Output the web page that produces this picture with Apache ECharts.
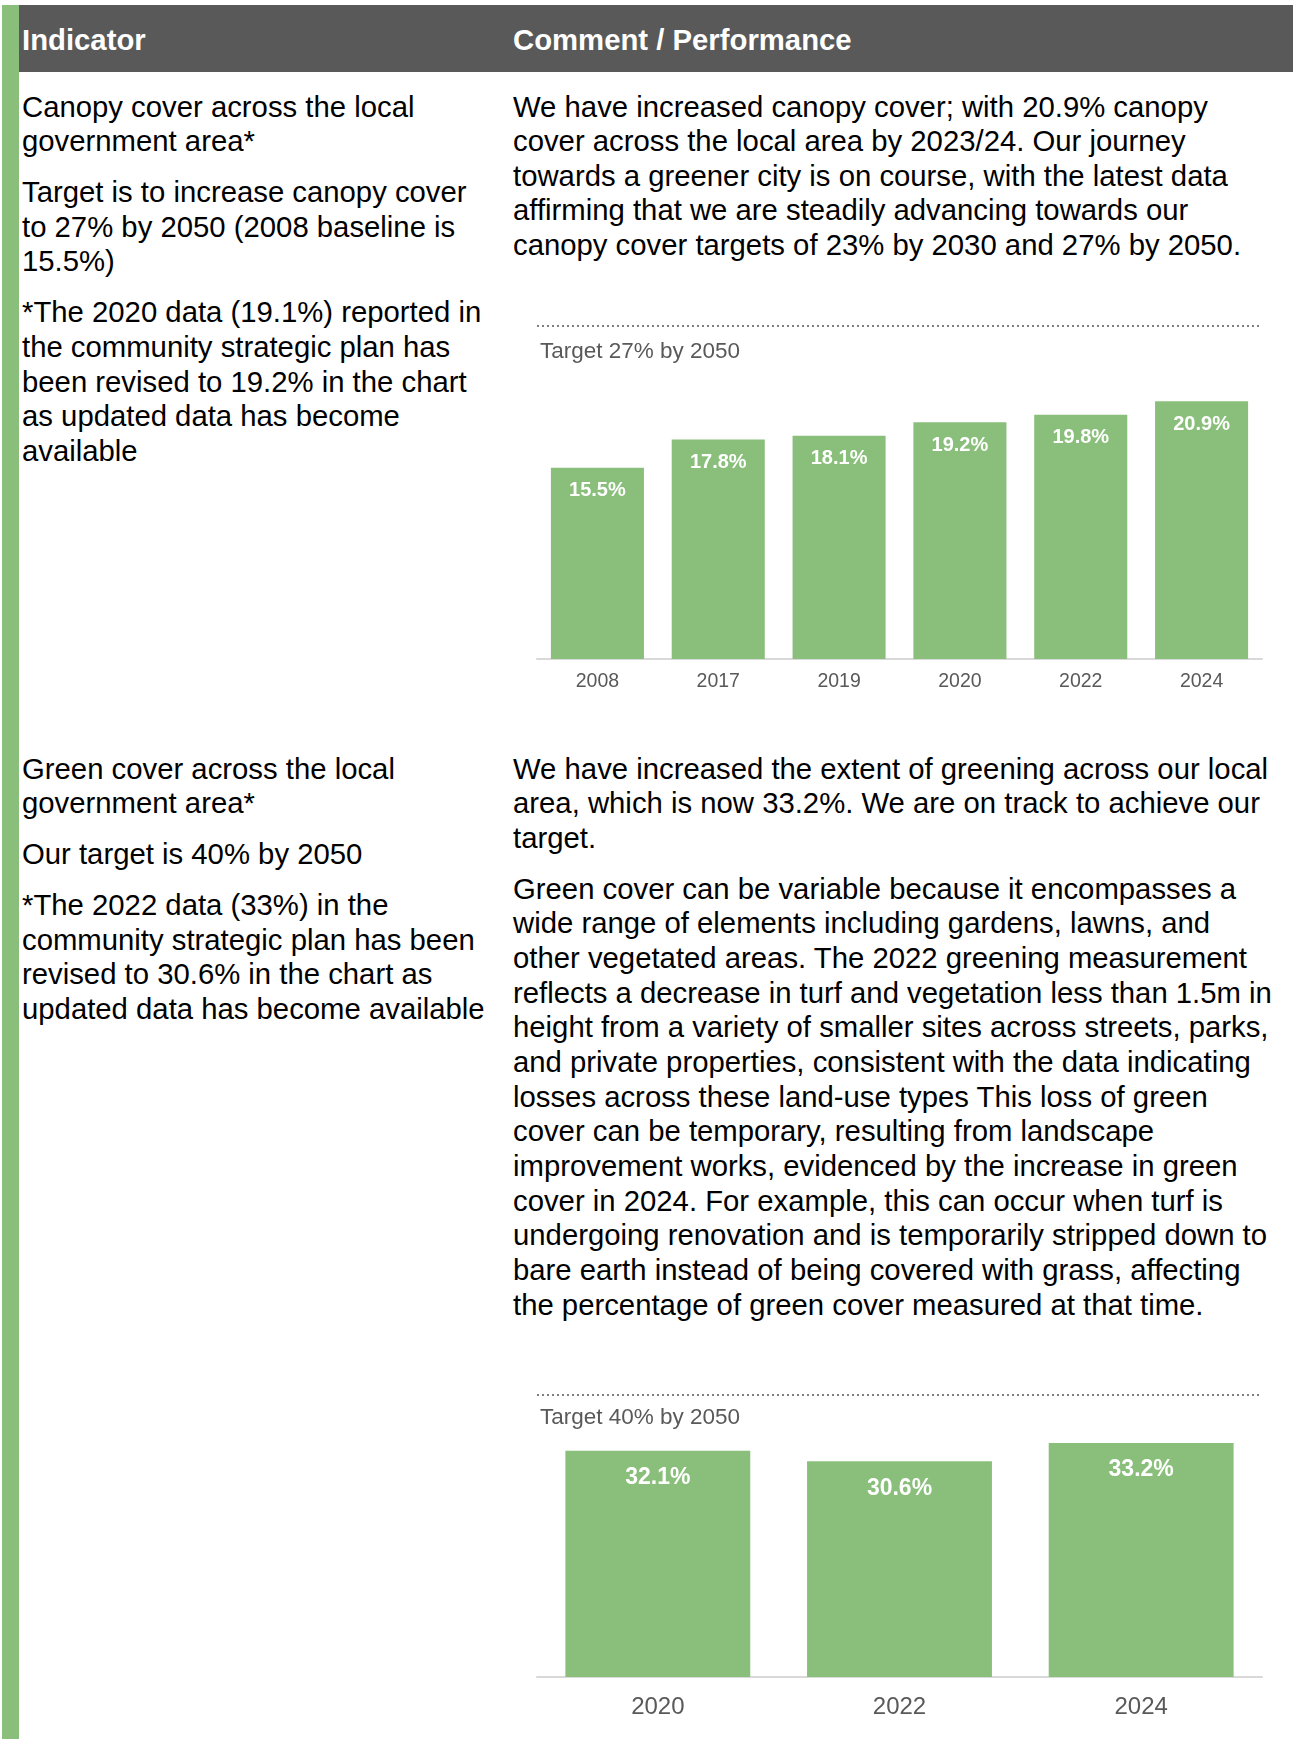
<!DOCTYPE html>
<html>
<head>
<meta charset="utf-8">
<script src="https://cdn.jsdelivr.net/npm/echarts@6/dist/echarts.min.js"></script>
<style>
  html, body { margin:0; padding:0; background:#fff; width:1293px; height:1739px; overflow:hidden; }
  body { position:relative; font-family:"Liberation Sans", Arial, sans-serif; color:#000; }
  #strip { position:absolute; left:2px; top:5px; width:17px; height:1734px; background:#89BF7A; }
  #header { position:absolute; left:19px; top:5px; width:1274px; height:67px; background:#595959; }
  .hd { position:absolute; top:6px; height:67px; line-height:67px; color:#fff; font-weight:bold; font-size:29.3px; white-space:nowrap; }
  .col { position:absolute; font-size:29.3px; line-height:34.65px; white-space:nowrap; }
  .col p { margin:0 0 16.35px 0; }
  .chart { position:absolute; }
</style>
</head>
<body>
<div id="strip"></div>
<div id="header"></div>
<div class="hd" style="left:22px;">Indicator</div>
<div class="hd" style="left:513px;">Comment / Performance</div>

<div class="col" style="left:22px; top:89.5px;">
  <p>Canopy cover across the local<br>government area*</p>
  <p>Target is to increase canopy cover<br>to 27% by 2050 (2008 baseline is<br>15.5%)</p>
  <p>*The 2020 data (19.1%) reported in<br>the community strategic plan has<br>been revised to 19.2% in the chart<br>as updated data has become<br>available</p>
</div>
<div class="col" style="left:513px; top:89.5px;">
  <p>We have increased canopy cover; with 20.9% canopy<br>cover across the local area by 2023/24. Our journey<br>towards a greener city is on course, with the latest data<br>affirming that we are steadily advancing towards our<br>canopy cover targets of 23% by 2030 and 27% by 2050.</p>
</div>

<div class="col" style="left:22px; top:751.5px;">
  <p>Green cover across the local<br>government area*</p>
  <p>Our target is 40% by 2050</p>
  <p>*The 2022 data (33%) in the<br>community strategic plan has been<br>revised to 30.6% in the chart as<br>updated data has become available</p>
</div>
<div class="col" style="left:513px; top:751.5px;">
  <p>We have increased the extent of greening across our local<br>area, which is now 33.2%. We are on track to achieve our<br>target.</p>
  <p>Green cover can be variable because it encompasses a<br>wide range of elements including gardens, lawns, and<br>other vegetated areas. The 2022 greening measurement<br>reflects a decrease in turf and vegetation less than 1.5m in<br>height from a variety of smaller sites across streets, parks,<br>and private properties, consistent with the data indicating<br>losses across these land-use types This loss of green<br>cover can be temporary, resulting from landscape<br>improvement works, evidenced by the increase in green<br>cover in 2024. For example, this can occur when turf is<br>undergoing renovation and is temporarily stripped down to<br>bare earth instead of being covered with grass, affecting<br>the percentage of green cover measured at that time.</p>
</div>

<div id="chart1" class="chart" style="left:500px; top:300px; width:793px; height:420px;"></div>
<div id="chart2" class="chart" style="left:500px; top:1370px; width:793px; height:369px;"></div>

<script>
// ---- data ----
const canopyYears = ['2008', '2017', '2019', '2020', '2022', '2024'];
const canopyValues = [15.5, 17.8, 18.1, 19.2, 19.8, 20.9];
const canopyTarget = 27;
const canopyTargetYear = '2050';

const greenYears = ['2020', '2022', '2024'];
const greenValues = [32.1, 30.6, 33.2];
const greenTarget = 40;
const greenTargetYear = '2050';

const FONT = '"Liberation Sans", Arial, sans-serif';
const GREEN = '#89BF7A';
const GREY_TEXT = '#595959';

function makeOption(cats, vals, target, targetYear, s) {
  return {
    animation: false,
    textStyle: { fontFamily: FONT },
    grid: { left: 37, right: 31, top: s.top, height: s.height, containLabel: false },
    xAxis: {
      type: 'category',
      data: cats,
      axisLine: { show: true, lineStyle: { color: '#d9d9d9', width: 2 } },
      axisTick: { show: false },
      axisLabel: { color: GREY_TEXT, fontSize: s.axisFont, margin: s.axisMargin, fontFamily: FONT }
    },
    yAxis: {
      type: 'value', min: 0, max: target, show: false,
      splitLine: { show: false }
    },
    series: [{
      type: 'bar',
      data: vals,
      barCategoryGap: s.gap,
      itemStyle: { color: GREEN },
      label: {
        show: true, position: 'insideTop', distance: s.labelDist,
        color: '#fff', fontWeight: 'bold', fontSize: s.labelFont, fontFamily: FONT,
        formatter: p => p.value.toFixed(1) + '%'
      },
      markLine: {
        silent: true,
        symbol: 'none',
        lineStyle: { type: [2, 3], color: '#7f7f7f', width: 2 },
        label: {
          show: true, position: 'insideStartBottom',
          distance: [3, s.targetDist],
          color: GREY_TEXT, fontSize: 22.5, fontFamily: FONT,
          formatter: 'Target ' + target + '% by ' + targetYear
        },
        data: [{ yAxis: target }]
      }
    }]
  };
}

const c1 = echarts.init(document.getElementById('chart1'), null, { renderer: 'canvas' });
c1.setOption(makeOption(canopyYears, canopyValues, canopyTarget, canopyTargetYear, {
  top: 26, height: 333, axisFont: 19.5, axisMargin: 13, labelFont: 20, labelDist: 13, gap: '23%', targetDist: 14
}));

const c2 = echarts.init(document.getElementById('chart2'), null, { renderer: 'canvas' });
c2.setOption(makeOption(greenYears, greenValues, greenTarget, greenTargetYear, {
  top: 25, height: 282, axisFont: 24, axisMargin: 18.5, labelFont: 23, labelDist: 15.5, gap: '23.5%', targetDist: 11
}));
</script>
</body>
</html>
